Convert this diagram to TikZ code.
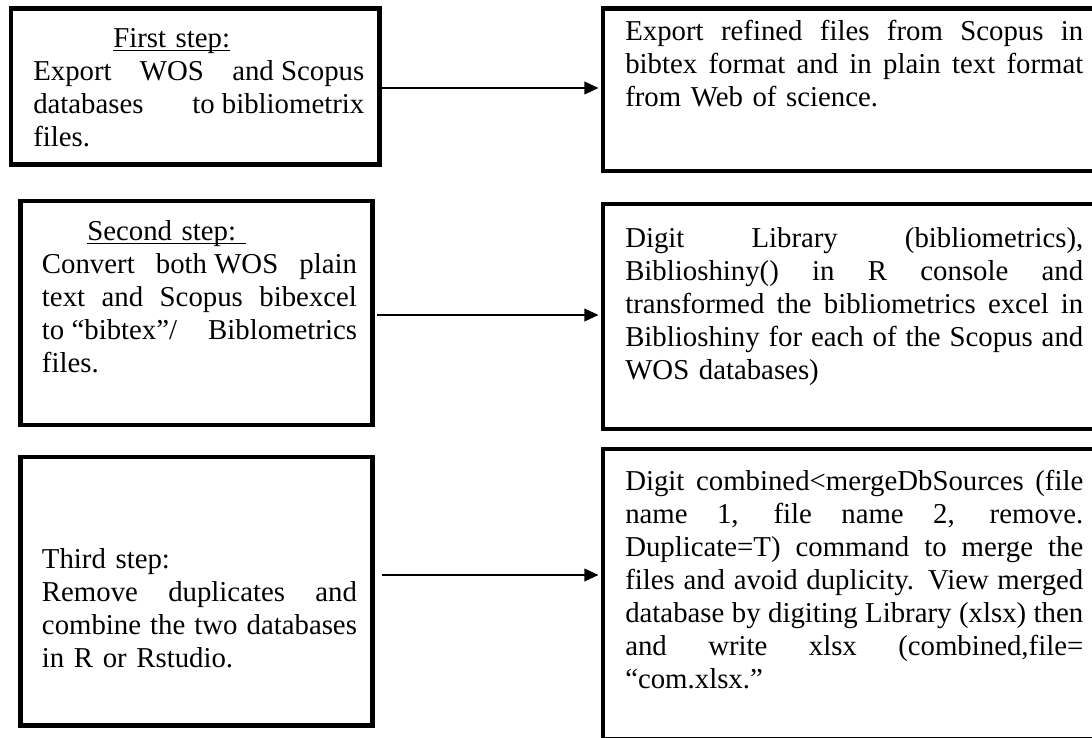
\documentclass[tikz,border=0pt]{standalone}
\usepackage{fontspec}
\setmainfont{Liberation Serif}
\usetikzlibrary{arrows.meta,fit}
\setlength\parindent{0pt}
\newcommand\ulx[1]{\setbox0\hbox{#1}\rlap{\rule[-2.6pt]{\wd0}{0.9pt}}\box0}
\newcommand\fs{\rule{0pt}{16pt}}
\newcommand\jX[2]{\leavevmode{\spaceskip=0pt\xspaceskip=0pt\hbox to #1{#2}}}
\newcommand\jA[1]{\jX{248.25pt}{#1}}
\newcommand\jB[1]{\jX{236.25pt}{#1}}
\newcommand\jC[1]{\jX{343.5pt}{#1}}
\begin{document}
\begin{tikzpicture}[x=0.75pt,y=-0.75pt,
  box/.style={draw, line width=3.4pt, inner sep=0pt},
  txt/.style={anchor=north west, inner sep=0pt, yshift=16pt, align=left,
    font=\fontsize{21.6pt}{24.75pt}\selectfont},
  conn/.style={line width=1pt, -{Triangle[length=10.5pt,width=9.5pt]}}]
\useasboundingbox (0,0) rectangle (1092,738);
\clip (0,0) rectangle (1092,738);
% boxes
\node[box, fit={(11,8.5) (379.5,164.5)}] (b1) {};
\node[box, fit={(20.5,201) (372.5,425)}] (b2) {};
\node[box, fit={(20.5,457) (372.5,725.5)}] (b3) {};
\node[box, fit={(603,8.5) (1120,171)}] (r1) {};
\node[box, fit={(603,204) (1120,429)}] (r2) {};
\node[box, fit={(603,449) (1120,739)}] (r3) {};
% texts
\node[txt, text width=248.25pt] (t1) at (33,47) {\fs\hspace*{60pt}\ulx{First step:}\\
\jA{Export\hfill WOS\hfill and Scopus}\\
\jA{databases\hfill to bibliometrix}\\
files.};
\node[txt, text width=236.25pt] (t2) at (41.7,240) {\fs\hspace*{34pt}\ulx{Second step:\ }\\
\jB{Convert\hfill both WOS\hfill plain}\\
\jB{text and Scopus bibexcel}\\
\jB{to “bibtex”/\hfill Biblometrics}\\
files.};
\node[txt, text width=236.25pt] (t3) at (41.7,568) {\fs Third step:\\
\jB{Remove duplicates and}\\
\jB{combine the two databases}\\
in R or Rstudio.};
\node[txt, text width=343.5pt] (u1) at (625,40) {\fs\jC{Export refined files from Scopus in}\\
\jC{bibtex format and in plain text format}\\
from Web of science.};
\node[txt, text width=343.5pt] (u2) at (625,247) {\fs\jC{Digit Library (bibliometrics),}\\
\jC{Biblioshiny() in R console and}\\
\jC{transformed the bibliometrics excel in}\\
\jC{Biblioshiny for each of the Scopus and}\\
WOS databases)};
\node[txt, text width=343.5pt] (u3) at (625,490) {\fs\jC{Digit combined<mergeDbSources (file}\\
\jC{name 1, file name 2, remove.}\\
\jC{Duplicate=T) command to merge the}\\
\jC{files and avoid duplicity. View merged}\\
\jC{database by digiting Library (xlsx) then}\\
\jC{and write xlsx (combined,file=}\\
“com.xlsx.”};
% connectors
\coordinate (a1) at (0,88);
\coordinate (a2) at (0,315);
\coordinate (a3) at (0,575);
\draw[conn, shorten >=1.7pt] (b1.east |- a1) -- (r1.west |- a1);
\draw[conn, shorten >=1.7pt, shorten <=1.7pt] (b2.east |- a2) -- (r2.west |- a2);
\draw[conn, shorten >=1.7pt, shorten <=5.5pt] (b3.east |- a3) -- (r3.west |- a3);
\end{tikzpicture}
\end{document}
